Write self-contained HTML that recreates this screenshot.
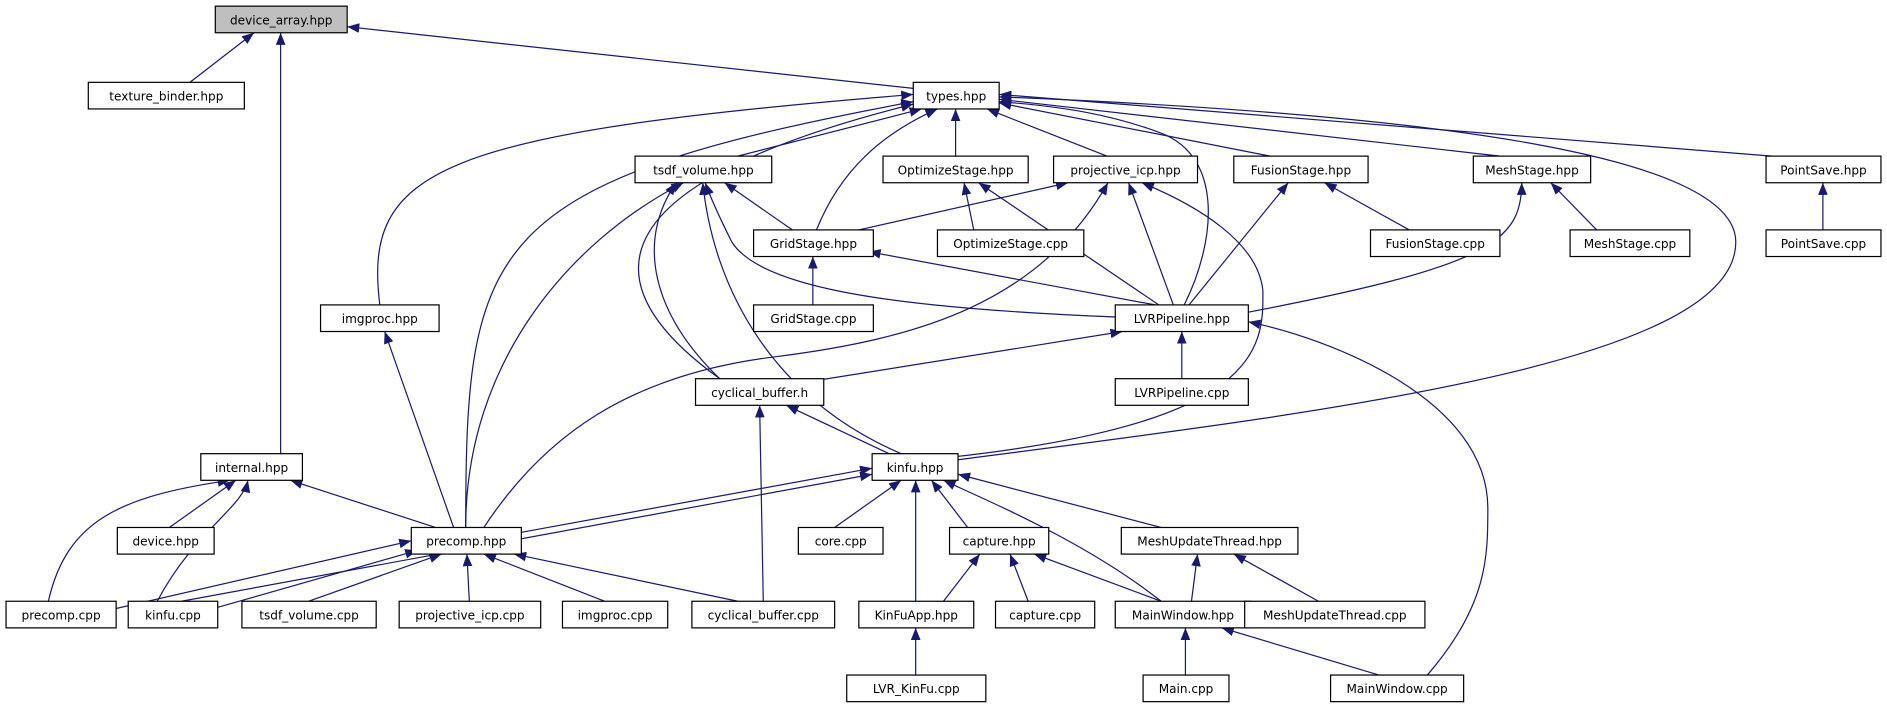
<!DOCTYPE html>
<html><head><meta charset="utf-8"><style>
html,body{margin:0;padding:0;background:#fff;width:1887px;height:709px;overflow:hidden}
text{font-family:"DejaVu Sans","Liberation Sans",sans-serif;font-size:10px;fill:#000}
</style></head><body>
<svg width="1887" height="709" viewBox="0 0 1560 586" xmlns="http://www.w3.org/2000/svg">
<defs><marker id="a" markerUnits="userSpaceOnUse" markerWidth="11" markerHeight="8" refX="10" refY="4" orient="auto"><path d="M0,0 L10,4 L0,8 z" fill="#191970"/></marker></defs>
<g fill="none" stroke="#191970" stroke-width="1" marker-end="url(#a)">
<path d="M157,68 L210,27"/>
<path d="M232,375 L232,27"/>
<path d="M755,73 L287,22"/>
<path d="M610,129 L762,90"/>
<path d="M790,129 L790,90"/>
<path d="M915,129 L816,90"/>
<path d="M1050,129 L826,85"/>
<path d="M1240,129 L826,82"/>
<path d="M1465,129 L826,78"/>
<path d="M675,190 C695,140 730,110 775,90"/>
<path d="M314,252 C300,140 360,110 755,78"/>
<path d="M385,436 C385,200 400,150 755,84"/>
<path d="M595,313 C480,230 500,150 755,86"/>
<path d="M979,252 C1005,200 1012,130 960,110 C920,95 880,88 826,84"/>
<path d="M792,380 C1100,340 1435,300 1435,200 C1435,130 1200,95 826,80"/>
<path d="M655,190 L599,151"/>
<path d="M922,262 C750,255 630,240 605,200 C595,180 588,165 583,151"/>
<path d="M595,313 C540,260 525,200 559,151"/>
<path d="M745,375 C640,330 590,240 581,151"/>
<path d="M385,436 C385,300 470,200 565,151"/>
<path d="M805,190 L797,151"/>
<path d="M958,252 L809,151"/>
<path d="M710,190 L883,151"/>
<path d="M970,252 L933,151"/>
<path d="M785,378 C1040,350 1045,290 1044,240 C1040,200 990,170 944,151"/>
<path d="M400,436 C450,360 520,310 640,295 C760,280 860,250 916,151"/>
<path d="M1165,190 L1095,151"/>
<path d="M983,252 L1065,151"/>
<path d="M1320,190 L1282,151"/>
<path d="M1032,258 C1230,220 1258,200 1258,151"/>
<path d="M1507,190 L1507,151"/>
<path d="M672,252 L672,212"/>
<path d="M955,252 L718,208"/>
<path d="M375,436 L318,274"/>
<path d="M678,314 L928,274"/>
<path d="M977,313 L977,274"/>
<path d="M1180,558 C1230,500 1230,460 1230,420 C1230,330 1100,280 1032,266"/>
<path d="M735,375 L650,335"/>
<path d="M631,497 L628,335"/>
<path d="M140,436 L195,397"/>
<path d="M360,436 L240,397"/>
<path d="M40,497 C55,430 100,410 190,397"/>
<path d="M130,497 C160,440 200,420 205,397"/>
<path d="M431,440 L721,387"/>
<path d="M150,497 L721,392"/>
<path d="M690,436 L745,397"/>
<path d="M800,436 L770,397"/>
<path d="M757,497 L757,397"/>
<path d="M960,436 L792,392"/>
<path d="M960,497 C900,450 830,420 780,397"/>
<path d="M96,503 L340,447"/>
<path d="M180,502 L345,455"/>
<path d="M255,497 L365,458"/>
<path d="M388,497 L386,458"/>
<path d="M500,497 L400,458"/>
<path d="M610,497 L425,458"/>
<path d="M780,497 L810,458"/>
<path d="M850,497 L835,458"/>
<path d="M960,497 L855,458"/>
<path d="M985,497 L990,458"/>
<path d="M1090,497 L1020,458"/>
<path d="M757,558 L757,519"/>
<path d="M980,558 L980,519"/>
<path d="M1140,558 L1010,519"/>
</g>
<g stroke="#000" stroke-width="1" fill="#fff">
<rect x="178" y="5" width="109" height="22" fill="#bfbfbf"/>
<rect x="73" y="68" width="129" height="22"/>
<rect x="755" y="68" width="71" height="22"/>
<rect x="525" y="129" width="113" height="22"/>
<rect x="730" y="129" width="120" height="22"/>
<rect x="871" y="129" width="119" height="22"/>
<rect x="1020" y="129" width="111" height="22"/>
<rect x="1218" y="129" width="97" height="22"/>
<rect x="1460" y="129" width="95" height="22"/>
<rect x="623" y="190" width="99" height="22"/>
<rect x="775" y="190" width="121" height="22"/>
<rect x="1133" y="190" width="107" height="22"/>
<rect x="1298" y="190" width="99" height="22"/>
<rect x="1460" y="190" width="95" height="22"/>
<rect x="265" y="252" width="98" height="22"/>
<rect x="623" y="252" width="99" height="22"/>
<rect x="922" y="252" width="110" height="22"/>
<rect x="575" y="313" width="106" height="22"/>
<rect x="922" y="313" width="110" height="22"/>
<rect x="166" y="375" width="84" height="22"/>
<rect x="721" y="375" width="71" height="22"/>
<rect x="97" y="436" width="80" height="22"/>
<rect x="340" y="436" width="91" height="22"/>
<rect x="660" y="436" width="70" height="22"/>
<rect x="785" y="436" width="82" height="22"/>
<rect x="927" y="436" width="146" height="22"/>
<rect x="5" y="497" width="91" height="22"/>
<rect x="106" y="497" width="74" height="22"/>
<rect x="200" y="497" width="111" height="22"/>
<rect x="330" y="497" width="117" height="22"/>
<rect x="465" y="497" width="87" height="22"/>
<rect x="572" y="497" width="118" height="22"/>
<rect x="710" y="497" width="95" height="22"/>
<rect x="823" y="497" width="82" height="22"/>
<rect x="922" y="497" width="112" height="22"/>
<rect x="1029" y="497" width="149" height="22"/>
<rect x="700" y="558" width="115" height="22"/>
<rect x="945" y="558" width="71" height="22"/>
<rect x="1100" y="558" width="110" height="22"/>
</g>
<g text-anchor="middle">
<text x="232.5" y="20">device_array.hpp</text>
<text x="137.5" y="83">texture_binder.hpp</text>
<text x="790.5" y="83">types.hpp</text>
<text x="581.5" y="144">tsdf_volume.hpp</text>
<text x="790" y="144">OptimizeStage.hpp</text>
<text x="930.5" y="144">projective_icp.hpp</text>
<text x="1075.5" y="144">FusionStage.hpp</text>
<text x="1266.5" y="144">MeshStage.hpp</text>
<text x="1507.5" y="144">PointSave.hpp</text>
<text x="672.5" y="205">GridStage.hpp</text>
<text x="835.5" y="205">OptimizeStage.cpp</text>
<text x="1186.5" y="205">FusionStage.cpp</text>
<text x="1347.5" y="205">MeshStage.cpp</text>
<text x="1507.5" y="205">PointSave.cpp</text>
<text x="314" y="267">imgproc.hpp</text>
<text x="672.5" y="267">GridStage.cpp</text>
<text x="977" y="267">LVRPipeline.hpp</text>
<text x="628" y="328">cyclical_buffer.h</text>
<text x="977" y="328">LVRPipeline.cpp</text>
<text x="208" y="390">internal.hpp</text>
<text x="756.5" y="390">kinfu.hpp</text>
<text x="137" y="451">device.hpp</text>
<text x="385.5" y="451">precomp.hpp</text>
<text x="695" y="451">core.cpp</text>
<text x="826" y="451">capture.hpp</text>
<text x="1000" y="451">MeshUpdateThread.hpp</text>
<text x="50.5" y="512">precomp.cpp</text>
<text x="143" y="512">kinfu.cpp</text>
<text x="255.5" y="512">tsdf_volume.cpp</text>
<text x="388.5" y="512">projective_icp.cpp</text>
<text x="508.5" y="512">imgproc.cpp</text>
<text x="631" y="512">cyclical_buffer.cpp</text>
<text x="757.5" y="512">KinFuApp.hpp</text>
<text x="864" y="512">capture.cpp</text>
<text x="978" y="512">MainWindow.hpp</text>
<text x="1103.5" y="512">MeshUpdateThread.cpp</text>
<text x="757.5" y="573">LVR_KinFu.cpp</text>
<text x="980.5" y="573">Main.cpp</text>
<text x="1155" y="573">MainWindow.cpp</text>
</g>
</svg>
</body></html>
